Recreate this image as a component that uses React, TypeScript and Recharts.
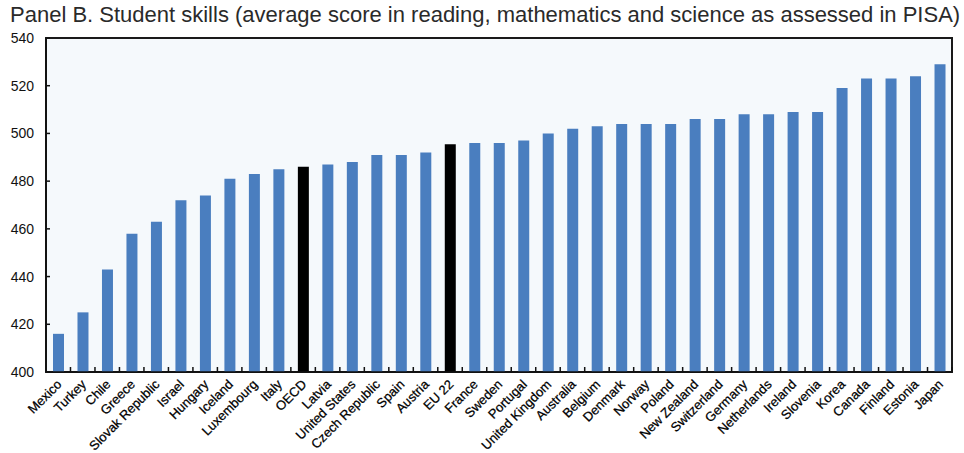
import React from 'react';
import * as R from 'recharts';
import { BarChart, Bar, XAxis, YAxis, Cell, CartesianGrid } from 'recharts';

const countries: string[] = [
  'Mexico', 'Turkey', 'Chile', 'Greece', 'Slovak Republic', 'Israel', 'Hungary', 'Iceland',
  'Luxembourg', 'Italy', 'OECD', 'Latvia', 'United States', 'Czech Republic', 'Spain', 'Austria',
  'EU 22', 'France', 'Sweden', 'Portugal', 'United Kingdom', 'Australia', 'Belgium', 'Denmark',
  'Norway', 'Poland', 'New Zealand', 'Switzerland', 'Germany', 'Netherlands', 'Ireland', 'Slovenia',
  'Korea', 'Canada', 'Finland', 'Estonia', 'Japan',
];

const scores: number[] = [
  416, 425, 443, 458, 463, 472, 474, 481,
  483, 485, 486, 487, 488, 491, 491, 492,
  495.5, 496, 496, 497, 500, 502, 503, 504,
  504, 504, 506, 506, 508, 508, 509, 509,
  519, 523, 523, 524, 529,
];

const highlighted: string[] = ['OECD', 'EU 22'];

const yTicks: number[] = [400, 420, 440, 460, 480, 500, 520, 540];

const title = 'Panel B. Student skills (average score in reading, mathematics and science as assessed in PISA)';

const data = countries.map((c, i) => ({ country: c, score: scores[i] }));

const FONT = '"Liberation Sans", Arial, sans-serif';

const XTick = (props: any) => {
  const { x, y, payload, width } = props;
  const band = (width || 0) / countries.length;
  return (
    <g>
      <line x1={x + band / 2} x2={x + band / 2} y1={y} y2={y - 5} stroke="#111" strokeWidth={1.5} />
      <g transform={`translate(${x + 1},${y + 10})`}>
        <text
          x={0}
          y={0}
          dy="0.35em"
          textAnchor="end"
          transform="rotate(-45)"
          fontSize={13}
          fontFamily={FONT}
          fill="#000"
          stroke="#000"
          strokeWidth={0.25}
        >
          {payload.value}
        </text>
      </g>
    </g>
  );
};

const Frame = () => {
  const usePlotArea = (R as any).usePlotArea;
  const area = usePlotArea ? usePlotArea() : null;
  if (!area) return null;
  return (
    <rect
      x={area.x}
      y={area.y}
      width={area.width}
      height={area.height}
      fill="none"
      stroke="#1a1a1a"
      strokeWidth={2}
    />
  );
};

export default function App() {
  return (
    <div style={{ position: 'absolute', left: 0, top: 0, width: 964, height: 453, background: '#fff' }}>
      <div
        style={{
          position: 'absolute',
          left: 10,
          top: 3,
          fontFamily: FONT,
          fontSize: 22,
          color: '#2a2a2a',
          whiteSpace: 'nowrap',
          lineHeight: '24px',
        }}
      >
        {title}
      </div>
      <BarChart
        width={964}
        height={453}
        data={data}
        margin={{ top: 38, right: 12, bottom: 0, left: 0 }}
        barSize={11}
      >
        <CartesianGrid horizontal={false} vertical={false} fill="#f5f9fc" />
        <XAxis
          dataKey="country"
          type="category"
          interval={0}
          height={81}
          tickSize={0}
          tickMargin={0}
          axisLine={{ stroke: '#111', strokeWidth: 1.5 }}
          tickLine={false}
          tick={<XTick />}
        />
        <YAxis
          width={46}
          domain={[400, 540]}
          ticks={yTicks}
          interval={0}
          allowDataOverflow
          tickSize={-4}
          tickMargin={16}
          axisLine={{ stroke: '#111', strokeWidth: 1.5 }}
          tickLine={{ stroke: '#111', strokeWidth: 1.5 }}
          tick={{ fontSize: 14, fontFamily: FONT, fill: '#111' }}
        />
        <Bar dataKey="score" isAnimationActive={false}>
          {data.map((d) => (
            <Cell key={d.country} fill={highlighted.includes(d.country) ? '#000000' : '#4a7ebf'} />
          ))}
        </Bar>
        <Frame />
      </BarChart>
    </div>
  );
}
